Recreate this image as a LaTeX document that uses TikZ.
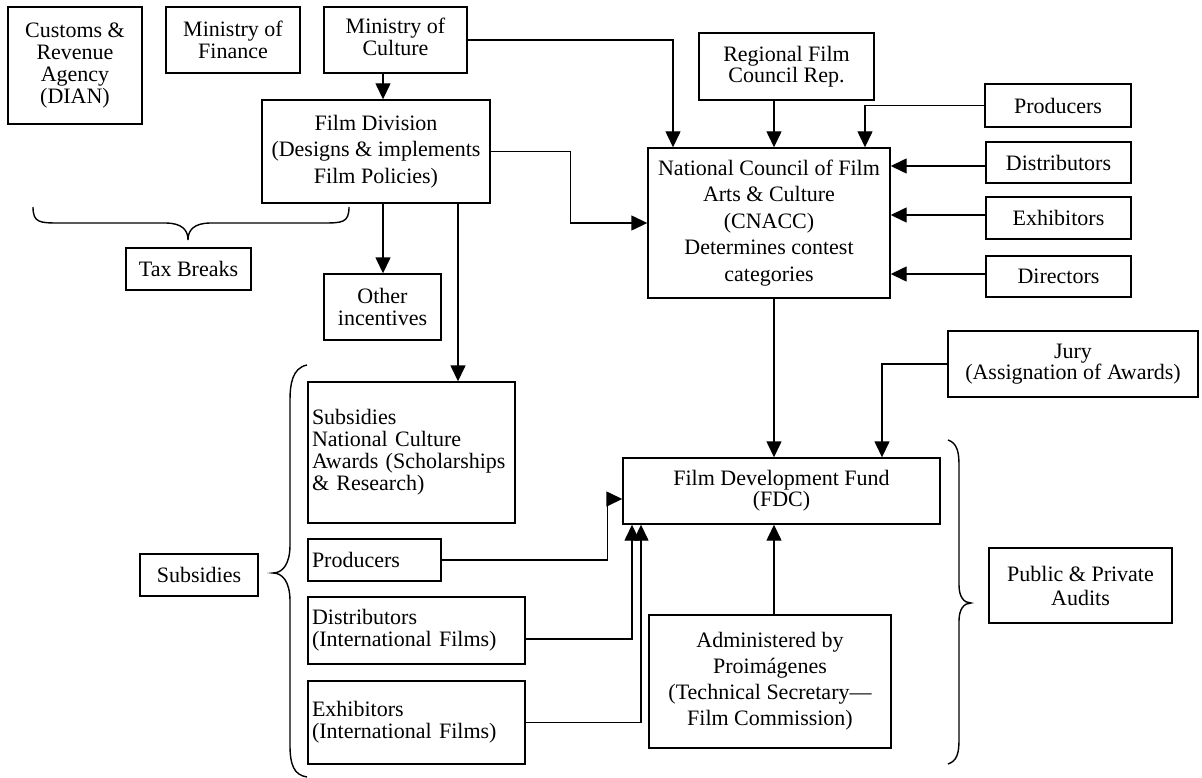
\documentclass[tikz,border=0pt]{standalone}
\usepackage{fontspec}
\setmainfont{Liberation Serif}
\usetikzlibrary{arrows.meta,calc}
\begin{document}
\begin{tikzpicture}[x=1pt,y=-1pt,
  box/.style={draw, line width=1.4pt, inner sep=2pt, align=center, font=\fontsize{22}{22}\selectfont},
  lbox/.style={draw, line width=1.4pt, inner xsep=4pt, inner ysep=0pt, align=left, font=\fontsize{22}{22}\selectfont},
  arr/.style={line width=1.4pt, -{Triangle[length=16pt,width=15pt]}},
  bracepath/.style={line width=1.4pt}
]
\useasboundingbox (0,0) rectangle (1202,778);

% left / top nodes
\node[box, minimum width=134pt, minimum height=117pt] (customs) at (75,65.5) {Customs \&\\Revenue\\Agency\\(DIAN)};
\node[box, minimum width=134pt, minimum height=66pt] (finance) at (233,40) {Ministry of\\Finance};
\node[box, minimum width=143pt, minimum height=66pt] (culture) at (395.5,40) {\raisebox{6pt}{\begin{tabular}{@{}c@{}}Ministry of\\Culture\end{tabular}}};
\node[box, minimum width=228pt, minimum height=103pt, font=\fontsize{22}{26.5}\selectfont] (filmdiv) at (376,151.5) {Film Division\\(Designs \& implements\\Film Policies)};
\node[box, minimum width=125pt, minimum height=42pt] (tax) at (188.5,269) {Tax Breaks};
\node[box, minimum width=117pt, minimum height=66pt] (other) at (382.5,307) {Other\\incentives};
\node[lbox, text width=199pt, minimum height=141pt] (subs) at (411.5,452.5) {Subsidies\\National Culture\\Awards (Scholarships\\\& Research)};
\node[box, minimum width=118pt, minimum height=42pt] (subslabel) at (199,575) {Subsidies};
\node[lbox, text width=125pt, minimum height=42pt] (prodL) at (374.5,560) {Producers};
\node[lbox, text width=209pt, minimum height=67pt] (distL) at (416.5,630.5) {Distributors\\(International Films)};
\node[lbox, text width=209pt, minimum height=83pt] (exhL) at (416.5,722.5) {Exhibitors\\(International Films)};

% right nodes
\node[box, minimum width=242pt, minimum height=150pt, font=\fontsize{22}{26.5}\selectfont] (cnacc) at (769,223) {National Council of Film\\Arts \& Culture\\(CNACC)\\Determines contest\\categories};
\node[box, minimum width=175pt, minimum height=67pt, font=\fontsize{22}{21}\selectfont] (regional) at (786.5,66.5) {Regional Film\\Council Rep.};
\node[box, minimum width=146pt, minimum height=43pt] (prodR) at (1058,105.5) {Producers};
\node[box, minimum width=145pt, minimum height=41pt] (distR) at (1058.5,162.5) {Distributors};
\node[box, minimum width=145pt, minimum height=42pt] (exhR) at (1058.5,218) {Exhibitors};
\node[box, minimum width=145pt, minimum height=41pt] (dirR) at (1058.5,276.5) {Directors};
\node[box, minimum width=250pt, minimum height=66pt, font=\fontsize{22}{21}\selectfont] (jury) at (1073,364) {Jury\\(Assignation of Awards)};
\node[box, minimum width=317pt, minimum height=66pt, font=\fontsize{22}{21}\selectfont] (fdc) at (781.5,491) {Film Development Fund\\(FDC)};
\node[box, minimum width=242pt, minimum height=133pt, font=\fontsize{22}{26}\selectfont] (admin) at (770,681.5) {Administered by\\Proimágenes\\(Technical Secretary—\\Film Commission)};
\node[box, minimum width=183pt, minimum height=75pt, font=\fontsize{22}{24}\selectfont] (audits) at (1080.5,585.5) {Public \& Private\\Audits};

% connectors
\draw[arr] ([xshift=-12.5pt]culture.south) -- ([xshift=-12.5pt]culture.south |- filmdiv.north);
\draw[arr] (culture.east) -| ([xshift=-96pt]cnacc.north);
\draw[arr] (filmdiv.east) -- ++(80,0) |- (cnacc.west);
\draw[arr] ([xshift=-12.5pt]regional.south) -- ([xshift=-12.5pt]regional.south |- cnacc.north);
\draw[arr] (prodR.west) -| ([xshift=96pt]cnacc.north);
\draw[arr] ([yshift=-3.5pt]distR.west) -- ([yshift=-3.5pt]distR.west -| cnacc.east);
\draw[arr] ([yshift=3pt]exhR.west) -- ([yshift=3pt]exhR.west -| cnacc.east);
\draw[arr] ([yshift=2.5pt]dirR.west) -- ([yshift=2.5pt]dirR.west -| cnacc.east);
\draw[arr] ([xshift=5pt]cnacc.south) -- ([xshift=5pt]cnacc.south |- fdc.north);
\draw[arr] (jury.west) -| ([xshift=100.5pt]fdc.north);
\draw[arr] ([xshift=7pt]filmdiv.south) -- ([xshift=7pt]filmdiv.south |- other.north);
\draw[arr] ([xshift=82pt]filmdiv.south) -- ([xshift=82pt]filmdiv.south |- subs.north);
\draw[arr] (prodL.east) -| ($([yshift=-8pt]fdc.west)+(-15,0)$) -- ([yshift=-8pt]fdc.west);
\draw[arr] ([yshift=-8.5pt]distL.east) -| ([xshift=-149.5pt]fdc.south);
\draw[arr] (exhL.east) -| ([xshift=-140.5pt]fdc.south);
\draw[arr] ([xshift=4pt]admin.north) -- ([xshift=4pt]admin.north |- fdc.south);

% braces
\draw[bracepath] (33,207) .. controls (33,223) and (40,223) .. (60,223) -- (165,223)
  .. controls (182,223) and (188,230) .. (188,240)
  .. controls (188,230) and (194,223) .. (211,223) -- (322,223)
  .. controls (342,223) and (349,223) .. (349,207);
\draw[bracepath] (307,365) .. controls (292,368) and (290,385) .. (290,400) -- (290,545)
  .. controls (290,565) and (282,573) .. (273,573)
  .. controls (282,573) and (290,581) .. (290,601) -- (290,745)
  .. controls (290,765) and (294,775) .. (307,777);
\draw[bracepath] (948,440) .. controls (957,443) and (959,452) .. (959,465) -- (959,585)
  .. controls (959,597) and (964,603) .. (971,603)
  .. controls (964,603) and (959,609) .. (959,621) -- (959,740)
  .. controls (959,753) and (957,761) .. (948,764);
\end{tikzpicture}
\end{document}
